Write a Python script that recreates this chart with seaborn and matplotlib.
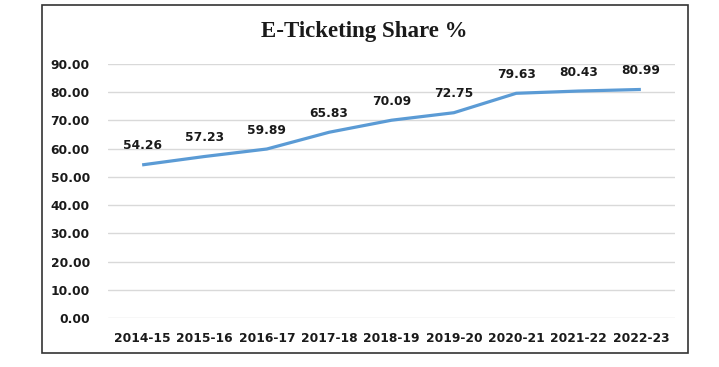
import matplotlib
matplotlib.use("Agg")
import matplotlib.pyplot as plt
import matplotlib.patches as patches
import seaborn as sns
import pandas as pd

# chart data
years = ['2014-15', '2015-16', '2016-17', '2017-18', '2018-19',
         '2019-20', '2020-21', '2021-22', '2022-23']
share = [54.26, 57.23, 59.89, 65.83, 70.09, 72.75, 79.63, 80.43, 80.99]
y_ticks = [0, 10, 20, 30, 40, 50, 60, 70, 80, 90]

df = pd.DataFrame({'year': years, 'share': share})
df['pos'] = range(len(years))

sns.set_theme(style='white')
plt.rcParams['font.family'] = ['DejaVu Sans']

fig = plt.figure(figsize=(7.19, 3.67), dpi=100)
ax = fig.add_axes([0.150, 0.1335, 0.789, 0.692])

sns.lineplot(data=df, x='pos', y='share', ax=ax, color='#5B9BD5',
             linewidth=2.3, solid_capstyle='butt')

for _, row in df.iterrows():
    ax.annotate(f"{row['share']:.2f}", (row['pos'], row['share']),
                xytext=(0, 9), textcoords='offset points', ha='center',
                va='bottom', fontsize=8.8, fontweight='bold', color='#1a1a1a',
                annotation_clip=False)

ax.set_xlim(-0.55, 8.55)
ax.set_ylim(0, 90)
ax.set_yticks(y_ticks)
ax.set_yticklabels([f'{v:.2f}' for v in y_ticks], fontsize=8.8,
                   fontweight='bold', color='#1a1a1a')
ax.set_xticks(df['pos'])
ax.set_xticklabels(years, fontsize=8.8, fontweight='bold', color='#1a1a1a')
ax.tick_params(axis='both', length=0)
ax.tick_params(axis='y', pad=13)
ax.tick_params(axis='x', pad=10)
ax.grid(axis='y', color='#d9d9d9', linewidth=1)
ax.set_axisbelow(True)
for s in ax.spines.values():
    s.set_visible(False)
ax.set_xlabel('')
ax.set_ylabel('')

fig.text(0.507, 0.913, 'E-Ticketing Share %', ha='center', va='center',
         fontsize=16.5, fontweight='bold', family=['Liberation Serif'],
         color='#1a1a1a')

# outer border box
fig.patches.append(patches.Rectangle((42 / 719, 1 - 353 / 367), 646 / 719, 348 / 367,
                                     transform=fig.transFigure, fill=False,
                                     edgecolor='#333333', linewidth=1.2))

fig.savefig('out.png', dpi=100)
